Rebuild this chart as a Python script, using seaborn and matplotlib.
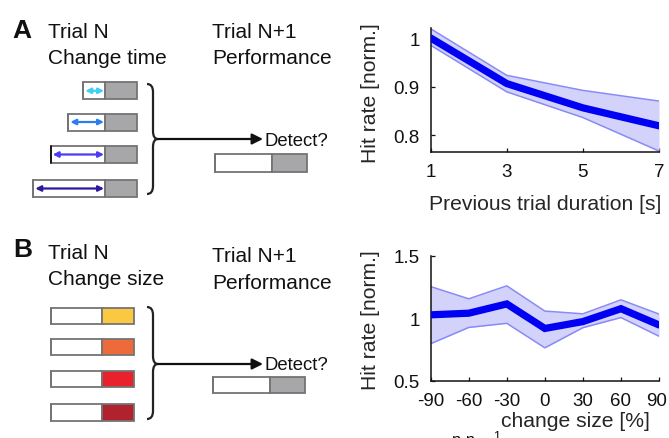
import matplotlib
matplotlib.use("Agg")
import matplotlib.pyplot as plt
import matplotlib.transforms as mtransforms
from matplotlib.patches import Rectangle, FancyArrowPatch, PathPatch
from matplotlib.path import Path
import seaborn as sns
import pandas as pd

# ---- data ----
prev_duration = [1, 3, 5, 7]
hit_mean_a = [1.000, 0.906, 0.856, 0.819]
hit_upper_a = [1.019, 0.923, 0.892, 0.870]
hit_lower_a = [0.985, 0.889, 0.836, 0.767]

change_size = [-90, -60, -30, 0, 30, 60, 90]
hit_mean_b = [1.027, 1.040, 1.114, 0.918, 0.973, 1.076, 0.946]
hit_upper_b = [1.253, 1.155, 1.259, 1.057, 1.035, 1.147, 1.033]
hit_lower_b = [0.796, 0.926, 0.959, 0.763, 0.924, 1.005, 0.856]

a_ticks = [1, 3, 5, 7]
a_yticks = [0.8, 0.9, 1.0]
a_ylabels = ["0.8", "0.9", "1"]
b_ticks = [-90, -60, -30, 0, 30, 60, 90]
b_yticks = [0.5, 1.0, 1.5]
b_ylabels = ["0.5", "1", "1.5"]

arrow_colors = ["#3fd0f8", "#2a7ef2", "#4a3cf0", "#2c1a9c"]
size_colors = ["#fbc842", "#ef6a3a", "#e8222c", "#b0222e"]

sns.set_style("ticks")
plt.rcParams["font.family"] = ["Liberation Sans", "DejaVu Sans"]

W, H = 669, 439
fig = plt.figure(figsize=(W / 100, H / 100), dpi=100)

# ---- schematic layer (pixel coordinates) ----
dax = fig.add_axes([0, 0, 1, 1], zorder=0)
dax.set_xlim(0, W)
dax.set_ylim(H, 0)
dax.axis("off")

EDGE = "#747474"
GRAY = "#a7a7a9"
txt = dict(fontsize=15, color="#111111")


def bar(x0, xs, x1, y0, y1, fill, left_edge=EDGE):
    dax.add_patch(Rectangle((x0, y0), xs - x0, y1 - y0, facecolor="white",
                            edgecolor=EDGE, lw=1.3))
    dax.add_patch(Rectangle((xs, y0), x1 - xs, y1 - y0, facecolor=fill,
                            edgecolor=EDGE, lw=1.3))
    dax.plot([x0, x0], [y0, y1], color=left_edge, lw=1.3)


def brace(x0, ytop, ybot, xtip, ymid, r=8):
    x1 = x0 + 6
    verts = [(x0, ytop), (x1, ytop), (x1, ytop + r),
             (x1, ymid - r),
             (x1, ymid), (xtip, ymid),
             (x1, ymid), (x1, ymid + r),
             (x1, ybot - r),
             (x1, ybot), (x0, ybot)]
    codes = [Path.MOVETO, Path.CURVE3, Path.CURVE3,
             Path.LINETO,
             Path.CURVE3, Path.CURVE3,
             Path.CURVE3, Path.CURVE3,
             Path.LINETO,
             Path.CURVE3, Path.CURVE3]
    dax.add_patch(PathPatch(Path(verts, codes), facecolor="none",
                            edgecolor="#222222", lw=1.6))
    dax.add_patch(FancyArrowPatch((xtip, ymid), (263, ymid),
                                  arrowstyle="-|>", mutation_scale=16,
                                  color="#111111", lw=1.6,
                                  shrinkA=0, shrinkB=0))


# Panel A
dax.text(12.5, 38.5, "A", fontsize=19, fontweight="bold", color="#111111")
dax.text(48, 37.5, "Trial N", **txt)
dax.text(48, 64.5, "Change time", **txt)
dax.text(212, 37.5, "Trial N+1", **txt)
dax.text(212, 64.5, "Performance", **txt)

a_left = [83.3, 68.3, 50.7, 33.3]
a_top = [83.3, 114.5, 147, 181]
a_left_edge = [EDGE, EDGE, "#111111", EDGE]
for xl, yt, col, le in zip(a_left, a_top, arrow_colors, a_left_edge):
    bar(xl, 105.3, 137.3, yt, yt + 17, GRAY, le)
    dax.add_patch(FancyArrowPatch((xl + 2, yt + 8.5), (104, yt + 8.5),
                                  arrowstyle="<|-|>", mutation_scale=8,
                                  color=col, lw=1.6, shrinkA=0, shrinkB=0))
brace(147, 85, 195, 158, 140)
dax.text(265, 146.5, "Detect?", fontsize=13.3, color="#111111")
bar(215, 272, 307, 155, 172.5, GRAY)

# Panel B
dax.text(13.5, 257.5, "B", fontsize=19, fontweight="bold", color="#111111")
dax.text(48, 259, "Trial N", **txt)
dax.text(48, 285.5, "Change size", **txt)
dax.text(212, 262.5, "Trial N+1", **txt)
dax.text(212, 289.5, "Performance", **txt)

b_top = [308.5, 339.5, 371.7, 405]
for yt, col in zip(b_top, size_colors):
    bar(50.7, 101.7, 134, yt, yt + 16.7, col)
brace(147, 308, 420, 158, 365)
dax.text(265, 370, "Detect?", fontsize=13.3, color="#111111")
bar(213, 270, 305, 378, 394, GRAY)

# caption fragment running off the bottom edge
dax.text(452, 445.5, "n n", fontsize=12, color="#111111")
dax.text(493, 440.5, "1", fontsize=9, color="#111111")

# ---- line plots ----
LINE = "#0000f2"
BAND = "#d2d2fb"
BAND_EDGE = "#8a8af6"


def band_plot(ax, x, mean, lo, hi):
    df = pd.DataFrame({"x": x, "mean": mean, "lo": lo, "hi": hi})
    ax.fill_between(df["x"], df["lo"], df["hi"], color=BAND, lw=0, zorder=1)
    sns.lineplot(data=df, x="x", y="hi", ax=ax, color=BAND_EDGE, lw=1.1, zorder=2)
    sns.lineplot(data=df, x="x", y="lo", ax=ax, color=BAND_EDGE, lw=1.1, zorder=2)
    sns.lineplot(data=df, x="x", y="mean", ax=ax, color=LINE, lw=5.2,
                 zorder=3, solid_joinstyle="miter")


def style_axes(ax):
    sns.despine(ax=ax)
    for s in ("left", "bottom"):
        ax.spines[s].set_linewidth(1.1)
        ax.spines[s].set_color("#111111")
    ax.tick_params(axis="both", direction="in", length=3, width=0.9,
                   labelsize=13.5, colors="#111111")
    ax.tick_params(axis="x", pad=8)
    ax.tick_params(axis="y", pad=8)


ax1 = fig.add_axes([430.7 / W, 1 - 153 / H, 228.3 / W, 123.7 / H], zorder=2)
band_plot(ax1, prev_duration, hit_mean_a, hit_lower_a, hit_upper_a)
ax1.set_xlim(1, 7)
ax1.set_ylim(0.765, 1.02)
ax1.set_xticks(a_ticks)
ax1.set_yticks(a_yticks)
ax1.set_yticklabels(a_ylabels)
style_axes(ax1)
ax1.set_xlabel("Previous trial duration [s]", fontsize=15.2)
ax1.set_ylabel("Hit rate [norm.]", fontsize=15.2)
ax1.xaxis.set_label_coords(0.5, -0.42)
ax1.xaxis.label.set_va("center")
ax1.yaxis.set_label_coords(-0.265, 0.48)
ax1.yaxis.label.set_va("center")
ax1.patch.set_alpha(0)

ax2 = fig.add_axes([430.7 / W, 1 - 381.7 / H, 228.3 / W, 125 / H], zorder=2)
band_plot(ax2, change_size, hit_mean_b, hit_lower_b, hit_upper_b)
ax2.set_xlim(-90, 90)
ax2.set_ylim(0.5, 1.5)
ax2.set_xticks(b_ticks)
ax2.set_xticklabels([str(t) for t in b_ticks])
ax2.set_yticks(b_yticks)
ax2.set_yticklabels(b_ylabels)
style_axes(ax2)
# keep the last tick label inside the canvas
last = ax2.get_xticklabels()[-1]
last.set_transform(last.get_transform() +
                   mtransforms.ScaledTranslation(-2 / 100, 0, fig.dpi_scale_trans))
ax2.set_xlabel("change size [%]", fontsize=15.2)
ax2.set_ylabel("Hit rate [norm.]", fontsize=15.2)
ax2.xaxis.set_label_coords(0.632, -0.32)
ax2.xaxis.label.set_va("center")
ax2.yaxis.set_label_coords(-0.265, 0.49)
ax2.yaxis.label.set_va("center")
ax2.patch.set_alpha(0)

fig.savefig("out.png", dpi=100)
